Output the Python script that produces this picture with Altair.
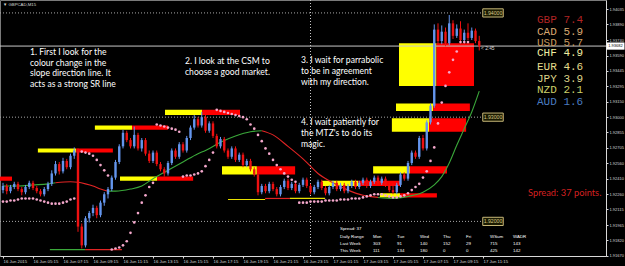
import altair as alt
import pandas as pd

# ---------------- data ----------------
opens = [1.9230,1.9234,1.9229,1.9233,1.9236,1.9231,1.9228,1.9233,1.9237,1.9232,1.9229,1.9226,1.9231,1.9236,1.9246,1.9255,1.9248,1.9258,1.9252,1.9263,
         1.9268,1.9195,1.9177,1.9203,1.9208,1.9213,1.9206,1.9218,1.9226,1.9231,1.9242,1.9257,1.9272,1.9285,1.9278,1.9272,1.9283,1.9270,1.9278,1.9265,
         1.9258,1.9266,1.9255,1.9250,1.9246,1.9256,1.9268,1.9262,1.9274,1.9268,1.9280,1.9290,1.9298,1.9292,1.9300,1.9287,1.9294,1.9282,1.9272,1.9279,
         1.9268,1.9262,1.9270,1.9259,1.9264,1.9254,1.9258,1.9250,1.9245,1.9228,1.9234,1.9229,1.9236,1.9231,1.9226,1.9233,1.9239,1.9232,1.9236,1.9229,
         1.9235,1.9240,1.9234,1.9228,1.9233,1.9238,1.9232,1.9227,1.9233,1.9237,1.9231,1.9235,1.9229,1.9234,1.9238,1.9233,1.9237,1.9240,1.9234,1.9238,
         1.9242,1.9237,1.9241,1.9235,1.9230,1.9228,1.9235,1.9245,1.9241,1.9256,1.9266,1.9262,1.9280,1.9270,1.9295,1.9311,1.9384,1.9373,1.9382,1.9371,
         1.9390,1.9378,1.9385,1.9374,1.9381,1.9376,1.9383,1.9373]
highs = [1.9237,1.9236,1.9235,1.9238,1.9238,1.9233,1.9235,1.9239,1.9239,1.9234,1.9231,1.9233,1.9238,1.9249,1.9258,1.9257,1.9261,1.9260,1.9265,1.9271,
         1.9270,1.9198,1.9205,1.9210,1.9216,1.9215,1.9220,1.9228,1.9233,1.9244,1.9259,1.9274,1.9288,1.9287,1.9280,1.9291,1.9285,1.9280,1.9280,1.9268,
         1.9268,1.9268,1.9257,1.9252,1.9258,1.9270,1.9270,1.9276,1.9276,1.9282,1.9292,1.9302,1.9300,1.9305,1.9302,1.9296,1.9296,1.9284,1.9281,1.9281,
         1.9270,1.9272,1.9272,1.9266,1.9266,1.9260,1.9260,1.9252,1.9247,1.9236,1.9236,1.9238,1.9238,1.9233,1.9235,1.9241,1.9241,1.9238,1.9238,1.9237,
         1.9242,1.9242,1.9236,1.9235,1.9240,1.9240,1.9234,1.9235,1.9239,1.9239,1.9237,1.9237,1.9236,1.9240,1.9240,1.9239,1.9242,1.9242,1.9240,1.9244,
         1.9244,1.9243,1.9243,1.9237,1.9236,1.9237,1.9247,1.9247,1.9258,1.9268,1.9268,1.9282,1.9283,1.9297,1.9313,1.9389,1.9390,1.9388,1.9386,1.9398,
         1.9393,1.9389,1.9392,1.9384,1.9390,1.9386,1.9385,1.9378]
lows = [1.9227,1.9226,1.9227,1.9231,1.9229,1.9225,1.9226,1.9231,1.9230,1.9227,1.9224,1.9224,1.9229,1.9234,1.9244,1.9245,1.9246,1.9250,1.9250,1.9260,
        1.9190,1.9174,1.9175,1.9199,1.9205,1.9203,1.9204,1.9215,1.9222,1.9229,1.9240,1.9255,1.9270,1.9276,1.9270,1.9270,1.9268,1.9267,1.9263,1.9256,
        1.9256,1.9253,1.9248,1.9243,1.9244,1.9254,1.9260,1.9260,1.9266,1.9266,1.9278,1.9288,1.9290,1.9290,1.9285,1.9285,1.9280,1.9270,1.9270,1.9266,
        1.9260,1.9260,1.9257,1.9257,1.9252,1.9252,1.9248,1.9243,1.9225,1.9226,1.9227,1.9227,1.9229,1.9224,1.9224,1.9231,1.9230,1.9230,1.9227,1.9227,
        1.9233,1.9232,1.9226,1.9226,1.9231,1.9230,1.9225,1.9225,1.9231,1.9229,1.9229,1.9227,1.9227,1.9232,1.9231,1.9231,1.9235,1.9232,1.9232,1.9236,
        1.9235,1.9235,1.9233,1.9228,1.9226,1.9226,1.9233,1.9239,1.9239,1.9254,1.9260,1.9260,1.9268,1.9268,1.9293,1.9309,1.9370,1.9370,1.9368,1.9369,
        1.9375,1.9376,1.9372,1.9372,1.9374,1.9374,1.9371,1.9364]
closes = [1.9234,1.9229,1.9233,1.9236,1.9231,1.9228,1.9233,1.9237,1.9232,1.9229,1.9226,1.9231,1.9236,1.9246,1.9255,1.9248,1.9258,1.9252,1.9263,1.9268,
          1.9195,1.9177,1.9203,1.9208,1.9213,1.9206,1.9218,1.9226,1.9231,1.9242,1.9257,1.9272,1.9285,1.9278,1.9272,1.9283,1.9270,1.9278,1.9265,1.9258,
          1.9266,1.9255,1.9250,1.9246,1.9256,1.9268,1.9262,1.9274,1.9268,1.9280,1.9290,1.9298,1.9292,1.9300,1.9287,1.9294,1.9282,1.9272,1.9279,1.9268,
          1.9262,1.9270,1.9259,1.9264,1.9254,1.9258,1.9250,1.9245,1.9228,1.9234,1.9229,1.9236,1.9231,1.9226,1.9233,1.9239,1.9232,1.9236,1.9229,1.9235,
          1.9240,1.9234,1.9228,1.9233,1.9238,1.9232,1.9227,1.9233,1.9237,1.9231,1.9235,1.9229,1.9234,1.9238,1.9233,1.9237,1.9240,1.9234,1.9238,1.9242,
          1.9237,1.9241,1.9235,1.9230,1.9228,1.9235,1.9245,1.9241,1.9256,1.9266,1.9262,1.9280,1.9270,1.9295,1.9311,1.9384,1.9373,1.9382,1.9371,1.9390,
          1.9378,1.9385,1.9374,1.9381,1.9376,1.9383,1.9373,1.9368]

# parabolic SAR, one value per bar (None = no dot)
psar = [1.9219,1.9219,1.9220,1.9220,1.9221,1.9222,1.9222,1.9222,1.9222,1.9221,1.9220,1.9219,1.9218,1.9217,1.9217,1.9217,1.9218,1.9219,1.9221,1.9222,
        None,1.9267,1.9266,1.9265,1.9263,1.9259,1.9254,1.9249,1.9244,1.9173,1.9174,1.9175,1.9177,1.9181,1.9189,1.9199,1.9208,1.9218,1.9225,1.9233,
        1.9237,1.9293,1.9292,1.9291,1.9290,1.9289,1.9288,1.9286,1.9243,1.9244,1.9244,1.9245,1.9246,1.9248,1.9253,1.9259,1.9266,1.9307,1.9306,1.9305,
        1.9304,1.9303,1.9302,1.9301,1.9300,1.9298,1.9293,1.9289,1.9283,1.9277,1.9270,1.9265,1.9259,1.9254,1.9250,1.9246,1.9243,1.9240,1.9238,1.9218,
        1.9218,1.9218,1.9219,1.9219,1.9219,1.9219,1.9220,1.9220,1.9220,1.9220,1.9221,1.9221,1.9221,1.9222,1.9222,1.9222,1.9223,1.9224,1.9225,1.9226,
        1.9226,1.9226,1.9225,1.9224,1.9223,1.9223,1.9224,1.9225,1.9227,1.9230,1.9233,1.9236,1.9242,1.9248,1.9258,1.9271,1.9294,1.9314,1.9330,1.9343,
        1.9355,1.9363,1.9372,1.9372,1.9372,None,None,None]

# slope direction line, read at a few bars per segment
slope_bars = [[0, 4, 8, 12, 14],
              [14, 18, 20, 22, 24, 26, 28],
              [28, 30, 34, 37, 40, 44, 48, 52, 54, 58, 62, 66, 69],
              [69, 72, 76, 80, 84, 88, 92, 96, 100],
              [100, 104, 108, 112, 115, 117, 119, 121, 123, 125, 127]]
slope_vals = [[1.9234, 1.9234, 1.9235, 1.9236, 1.9237],
              [1.9237, 1.9238, 1.92375, 1.9236, 1.9234, 1.9231, 1.9229],
              [1.9229, 1.9229, 1.9231, 1.9234, 1.9241, 1.9249, 1.9257, 1.9265, 1.9268, 1.9276, 1.9282, 1.9286, 1.9287],
              [1.9287, 1.9283, 1.9272, 1.9260, 1.9246, 1.9237, 1.9230, 1.9225, 1.9223],
              [1.9223, 1.9222, 1.9224, 1.9228, 1.9235, 1.9243, 1.9256, 1.9273, 1.9289, 1.9305, 1.9325]]
slope_cols = ["#3aa83a", "#e02424", "#3aa83a", "#e02424", "#3aa83a"]

# supply / demand zones: start bar, split bar, end bar, top, bottom
zone_start = [-0.8, 9.3, 24.5, 43.2, 58.4, 31.2, 85.1, 98.7, 100.5, 103.7, 104.8, 105.6]
zone_split = [-0.8, 19.5, 34.4, 53.1, 67.7, 41.1, 94.7, 108.5, 105.9, 113.6, 114.7, 115.6]
zone_end = [2.4, 29.3, 44.0, 63.2, 77.9, 50.7, 105.9, 118.4, 115.7, 123.5, 124.5, 125.6]
zone_top = [1.9243, 1.9270, 1.9292, 1.9307, 1.9253, 1.9243, 1.9239, 1.9253, 1.9227, 1.9299, 1.9313, 1.9371]
zone_bot = [1.9239, 1.9266, 1.9288, 1.9302, 1.9245, 1.9239, 1.9234, 1.9246, 1.9223, 1.9286, 1.9306, 1.9330]

# short support / resistance lines
sr_x0 = [12.5, 21.9, 60.0, 69.9, 76.5]
sr_x1 = [21.9, 31.7, 69.9, 76.5, 85.9]
sr_price = [1.9173, 1.9173, 1.9221, 1.9222, 1.9222]
sr_col = ["#3aa83a", "#e02424", "#e8e000", "#e02424", "#e8e000"]

round_levels = [1.94, 1.93, 1.92]
round_labels = ["1.94000", "1.93000", "1.92000"]
round_end_bar = 128
day_sep_bar = 82
bid = 1.93682

price_ticks = [1.94035, 1.93890, 1.93740, 1.93590, 1.93445, 1.93295, 1.93150, 1.93000, 1.92855,
               1.92705, 1.92560, 1.92410, 1.92260, 1.92115, 1.91965, 1.91820, 1.91670]
time_labels = ["16 Jun 2015", "16 Jun 05:15", "16 Jun 07:15", "16 Jun 09:15", "16 Jun 11:15",
               "16 Jun 13:15", "16 Jun 15:15", "16 Jun 17:15", "16 Jun 19:15", "16 Jun 21:15",
               "16 Jun 23:15", "17 Jun 01:15", "17 Jun 03:15", "17 Jun 05:15", "17 Jun 07:15",
               "17 Jun 09:15", "17 Jun 11:15"]
time_ticks = list(range(0, 129, 8))

currencies = ["GBP", "CAD", "USD", "CHF", "EUR", "JPY", "NZD", "AUD"]
strength = [7.4, 5.9, 5.7, 4.9, 4.6, 3.9, 2.1, 1.6]
cur_colors = ["#b02424", "#d8a870", "#c89a5e", "#eeeea2", "#e4dc8c", "#ded48a", "#ccd06a", "#4a7cc0"]

dr_header = ["Daily Range", "Mon", "Tue", "Wed", "Thu", "Fri", "WSum", "WADR"]
last_week = ["Last Week", 303, 91, 140, 152, 29, 715, 143]
this_week = ["This Week", 111, 134, 180, 0, 0, 425, 142]
spread = 37

notes = [["1. First I look for the", "colour change in the", "slope direction line. It", "acts as a strong SR line"],
         ["2. I look at the CSM to", "choose a good market."],
         ["3. I wait for parrabolic", "to be in agreement", "with my direction."],
         ["4.  I wait patiently for", "the MTZ's to do its", "magic."]]

# ---------------- chart ----------------
X = alt.Scale(domain=[-0.8, 160.8], nice=False, zero=False)
Y = alt.Scale(domain=[1.91668, 1.94124], nice=False, zero=False)
AX = "#d8d8d8"
SMALL = "Liberation Sans"
XA = alt.Axis(values=time_ticks, labelExpr=str(time_labels) + "[round(datum.value/8)]",
              labelAlign="left", labelFontSize=4.3, labelColor=AX, labelFont=SMALL,
              labelPadding=1, tickSize=2, tickColor=AX, domainColor=AX, grid=False,
              title=None, labelOverlap=False, labelFlush=False)
YA = alt.Axis(orient="right", values=price_ticks, format=".5f", labelFontSize=4.0, labelColor=AX,
              labelFont=SMALL, labelPadding=1, tickSize=2, tickColor=AX, domainColor=AX,
              grid=False, title=None, labelOverlap=False, labelFlush=False)


def xe(f):
    return alt.X(f, type="quantitative", scale=X, axis=XA)


def ye(f):
    return alt.Y(f, type="quantitative", scale=Y, axis=YA)


UP, DN = "#6495ed", "#ee1111"
one = pd.DataFrame({"a": [0]})

n = len(opens)
cd = pd.DataFrame({"i": list(range(n)), "o": opens, "h": highs, "l": lows, "c": closes})
cd["col"] = [UP if c >= o else DN for o, c in zip(opens, closes)]

zones = pd.DataFrame({"s": zone_start, "m": zone_split, "e": zone_end, "t": zone_top, "b": zone_bot})
yellow = alt.Chart(zones).mark_rect(color="#ffff00").encode(x=xe("s"), x2="m:Q", y=ye("t"), y2="b:Q")
red = alt.Chart(zones).mark_rect(color="#ff0000").encode(x=xe("m"), x2="e:Q", y=ye("t"), y2="b:Q")

rl = pd.DataFrame({"p": round_levels, "lab": round_labels, "x0": [-0.8] * 3, "x1": [round_end_bar] * 3})
round_rules = alt.Chart(rl).mark_rule(color="#a8a8a8", strokeDash=[1, 2], strokeWidth=1).encode(
    x=xe("x0"), x2="x1:Q", y=ye("p"))
box_shape = "M-1,-0.4H1V0.4H-1Z"
round_boxes = alt.Chart(rl).mark_point(shape=box_shape, size=420, filled=True, fill="#1a1a00",
                                       stroke="#c8b878", strokeWidth=1, opacity=1).encode(
    x=alt.value(493), y=ye("p"))
round_text = alt.Chart(rl).mark_text(color="#d8c888", fontSize=5.2, font=SMALL).encode(
    x=alt.value(493), y=ye("p"), text="lab:N")

day_sep = alt.Chart(pd.DataFrame({"d": [day_sep_bar]})).mark_rule(
    color="#c8c8c8", strokeDash=[1, 2], strokeWidth=1).encode(
    x=xe("d"), y=alt.value(0), y2=alt.value(256))

bid_df = pd.DataFrame({"p": [bid], "lab": [f"{bid:.5f}"]})
bid_line = alt.Chart(bid_df).mark_rule(color="#c8c8c8", strokeWidth=1).encode(
    x=alt.value(0), x2=alt.value(606), y=ye("p"))
bid_box = alt.Chart(bid_df).mark_point(shape=box_shape, size=324, filled=True, fill="#ffffff",
                                       opacity=1).encode(x=alt.value(615.5), y=ye("p"))
bid_text = alt.Chart(bid_df).mark_text(color="#000000", fontSize=4.0, font=SMALL).encode(
    x=alt.value(615.5), y=ye("p"), text="lab:N")

sr = pd.DataFrame({"x0": sr_x0, "x1": sr_x1, "p": sr_price, "col": sr_col})
sr_lines = alt.Chart(sr).mark_rule(strokeWidth=1.2).encode(
    x=xe("x0"), x2="x1:Q", y=ye("p"), color=alt.Color("col:N", scale=None))

rows = []
for k, (bs, vs) in enumerate(zip(slope_bars, slope_vals)):
    for b, v in zip(bs, vs):
        rows.append({"seg": k, "i": b, "v": v, "col": slope_cols[k]})
slope = alt.Chart(pd.DataFrame(rows)).mark_line(strokeWidth=1.1, interpolate="monotone").encode(
    x=xe("i"), y=ye("v"), detail="seg:N", color=alt.Color("col:N", scale=None))

wicks = alt.Chart(cd).mark_rule(strokeWidth=1).encode(
    x=xe("i"), y=ye("l"), y2="h:Q", color=alt.Color("col:N", scale=None))
bodies = alt.Chart(cd).mark_rule(strokeWidth=2.4).encode(
    x=xe("i"), y=ye("o"), y2="c:Q", color=alt.Color("col:N", scale=None))

ps = pd.DataFrame({"i": list(range(n)), "p": psar}).dropna()
sar = alt.Chart(ps).mark_circle(size=7, color="#f5a8cc", opacity=1).encode(x=xe("i"), y=ye("p"))

layers = [yellow, red, round_rules, day_sep, bid_line, sr_lines, slope, wicks, bodies, sar,
          round_boxes, round_text, bid_box, bid_text]


def txt(s, x, y, size, color="#ffffff", font="Lato", align="left"):
    return alt.Chart(one).mark_text(text=s, x=x, y=y, fontSize=size, color=color, font=font,
                                    align=align, baseline="middle").encode(opacity=alt.value(1))


note_pos = [(30, 52, 10.5), (185, 61, 11), (301, 60, 11), (301, 122, 11)]
for lines, (nx, ny, dy) in zip(notes, note_pos):
    for j, s in enumerate(lines):
        layers.append(txt(s, nx, ny + j * dy, 8.6))

cur_y = [19.5, 32, 42.5, 53, 66.5, 78.5, 89.5, 102]
for name, val, col, cy in zip(currencies, strength, cur_colors, cur_y):
    layers.append(txt(f"{name}  {val:.1f}", 537, cy, 11, color=col, font="Liberation Mono"))

layers.append(txt(f"Spread: {spread} points.", 528, 193, 9.3, color="#d42020"))
layers.append(txt("\u25bc GBPCAD,M15", 3, 5, 4.3, color=AX, font=SMALL))
layers.append(txt("< 2:45", 481, 49, 4.8, color=AX, font=SMALL))

col_x = [340, 373, 397, 420, 443, 466, 490, 513]
layers.append(txt(f"Spread: {spread}", 340, 229, 4.4, font=SMALL))
for row, ry in zip([dr_header, last_week, this_week], [237, 244, 251]):
    for cx, v in zip(col_x, row):
        layers.append(txt(str(v), cx, ry, 4.4, font=SMALL))

chart = alt.layer(*layers).properties(
    width=606, height=256,
    padding={"left": 0, "right": 19, "top": 0, "bottom": 10},
    autosize=alt.AutoSizeParams(type="none"),
    background="#000000",
).configure_view(stroke="#7a7a7a", strokeWidth=1)

chart.save("out.html", embed_options={"renderer": "svg", "actions": False})
